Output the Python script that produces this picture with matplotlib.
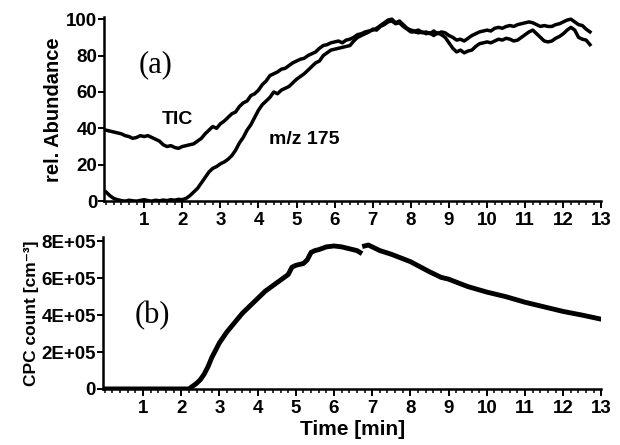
import numpy as np
import matplotlib.pyplot as plt
from matplotlib.ticker import MultipleLocator, FixedLocator

# (a) relative abundance, time grid 0..12.7 min in 0.1 steps
time_a = np.round(np.arange(0, 12.75, 0.1), 1)
tic = [39, 38.5, 38, 37.5, 37, 36, 35.5, 34.5, 35, 36,
       35.5, 36, 35, 34, 33, 31, 30, 30.5, 29.5, 29,
       30, 30.5, 31, 31.5, 33, 34.5, 37, 39, 41, 40,
       42.5, 44, 46, 48, 49, 52, 54, 55, 58, 59,
       61, 64, 66, 69, 70, 71, 72.5, 73, 74.5, 76,
       77, 78, 78.5, 80, 81, 82, 84, 85.5, 86, 87,
       87.5, 88, 87, 88.5, 89, 90, 91.5, 92, 93, 93.5,
       94, 95, 96.5, 98, 99.5, 100, 98, 99, 97, 95,
       94, 93.5, 94, 92.5, 93, 92, 93.5, 92, 93, 92.5,
       91, 90, 88.5, 89, 88, 89.5, 91, 92, 93, 93.5,
       94, 93.5, 95, 95.5, 95, 96, 96.5, 96, 97, 97.5,
       98, 98.5, 98, 97, 96, 96.5, 96, 96, 97, 97.5,
       98.5, 99.5, 100, 98.5, 97, 96.5, 94.5, 93]
mz175 = [5, 3, 1.5, 0.8, 0.3, 0, 0.5, 0.2, 0, 0.4,
         0.8, 0.3, 0, 0.5, 0.2, 0.6, 0.3, 0.8, 0.5, 1.0,
         0.8, 1.5, 3, 5, 7, 10, 13, 16, 18, 19,
         20.5, 21.5, 23, 25, 28, 32, 35, 39, 42, 46,
         50, 53, 55, 57, 60, 59, 61, 62, 63, 65,
         67, 68.5, 70, 72, 74, 76, 77, 80, 81.5, 83,
         83.5, 84, 84.5, 85, 85.5, 88, 90, 91, 92, 93,
         94.5, 94, 96, 97, 98.5, 99, 97.5, 98, 96, 94.5,
         93, 93, 92.5, 93, 92, 92.5, 91, 92.5, 91.5, 90,
         87, 84, 82, 83, 81.5, 82.5, 83, 85, 86.5, 87,
         87.5, 87, 88, 89, 88.5, 89.5, 89, 88, 88.5, 90,
         91.5, 93, 94, 92, 90, 88, 87.5, 88, 89.5, 90.5,
         92, 94, 95.5, 94, 90, 89, 88.5, 86]

# (b) CPC count (units of 1E+05 cm^-3); NaN marks the gap in the record
time_b = [0, 0.5, 1.0, 1.5, 2.0, 2.2, 2.3, 2.4, 2.5, 2.6, 2.7, 2.8, 2.9, 3.0,
          3.2, 3.4, 3.6, 3.8, 4.0, 4.2, 4.4, 4.6, 4.8, 4.9, 5.0, 5.2, 5.3,
          5.4, 5.5, 5.6, 5.8, 6.0, 6.2, 6.4, 6.6, 6.68, 6.74, 6.8, 6.9, 7.0,
          7.2, 7.5, 8.0, 8.5, 8.8, 9.0, 9.5, 10.0, 10.5, 11.0, 11.5, 12.0,
          12.5, 12.95]
cpc_e5 = [0, 0, 0, 0, 0, 0, 0.15, 0.3, 0.5, 0.8, 1.2, 1.7, 2.1, 2.5,
          3.1, 3.6, 4.1, 4.5, 4.9, 5.3, 5.6, 5.9, 6.2, 6.6, 6.7, 6.8, 7.0,
          7.4, 7.5, 7.55, 7.7, 7.75, 7.7, 7.6, 7.5, 7.4, np.nan, 7.75, 7.8, 7.7,
          7.5, 7.3, 6.9, 6.35, 6.05, 5.95, 5.55, 5.25, 5.0, 4.7, 4.45, 4.2,
          4.0, 3.8]

xticks = list(range(1, 14))
yticks_a = [0, 20, 40, 60, 80, 100]
yticks_b = [0, 2e5, 4e5, 6e5, 8e5]
yticklabels_b = ['0', '2E+05', '4E+05', '6E+05', '8E+05']

plt.rcParams['font.family'] = ['Liberation Sans', 'DejaVu Sans']

fig = plt.figure(figsize=(6.2, 4.45), dpi=100)
ax1 = fig.add_axes([0.168, 0.548, 0.802, 0.413])
ax2 = fig.add_axes([0.166, 0.126, 0.804, 0.342])


def style_axis(ax):
    for s in ['top', 'right']:
        ax.spines[s].set_visible(False)
    for s in ['left', 'bottom']:
        ax.spines[s].set_linewidth(1.8)
    ax.set_xlim(-0.05, 13)
    ax.xaxis.set_major_locator(FixedLocator(xticks))
    ax.xaxis.set_minor_locator(MultipleLocator(0.2))
    ax.tick_params(axis='x', which='major', length=5, width=1.4, labelsize=13.5, pad=3)
    ax.tick_params(axis='x', which='minor', length=3, width=1.1)
    ax.tick_params(axis='y', which='major', length=4, width=1.4, labelsize=13.5, pad=1)
    for lab in ax.get_xticklabels() + ax.get_yticklabels():
        lab.set_fontweight('bold')


ax1.plot(time_a, tic, color='black', lw=2.5)
ax1.plot(time_a, mz175, color='black', lw=2.5)
ax1.set_ylim(0, 101)
ax1.set_yticks(yticks_a)
style_axis(ax1)
ax1.set_ylabel('rel. Abundance', fontsize=14.5, fontweight='bold', labelpad=2)
ax1.text(1.3, 75, '(a)', fontsize=22, family='Liberation Serif', ha='center', va='center')
ax1.text(1.88, 45, 'TIC', fontsize=14, fontweight='bold', ha='center', va='center')
ax1.text(5.2, 34, 'm/z 175', fontsize=14, fontweight='bold', ha='center', va='center')

ax2.plot(time_b, np.array(cpc_e5) * 1e5, color='black', lw=3.5)
ax2.set_ylim(0, 8.25e5)
ax2.set_yticks(yticks_b)
ax2.set_yticklabels(yticklabels_b)
style_axis(ax2)
ax2.set_ylabel('CPC count [cm⁻³]', fontsize=12.5, fontweight='bold', labelpad=2)
ax2.text(1.25, 3.95e5, '(b)', fontsize=22, family='Liberation Serif', ha='center', va='center')
ax2.set_xlabel('Time [min]', fontsize=15, fontweight='bold', labelpad=2)

fig.savefig('out.png', dpi=100)
